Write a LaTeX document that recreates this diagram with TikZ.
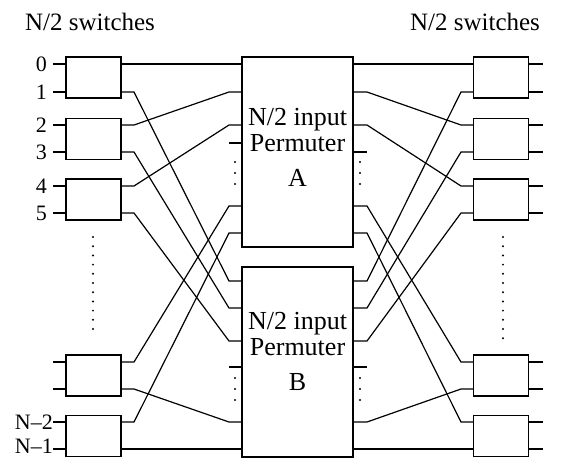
\documentclass[tikz,border=0pt]{standalone}
\usepackage{fontspec}
\setmainfont{Liberation Serif}
\usetikzlibrary{positioning,calc}

\begin{document}
\begin{tikzpicture}[x=1pt,y=-1pt,
  wire/.style={draw=black,line width=1.2pt},
  switchbox/.style={rectangle,draw=black,line width=1.3pt,minimum width=55pt,minimum height=41pt,inner sep=0pt},
  permbox/.style={rectangle,draw=black,line width=1.3pt,minimum width=111pt,minimum height=190pt,inner sep=0pt},
  dotcol/.style={draw=black,line width=2.2pt,line cap=round,dash pattern=on 0pt off 9.2pt},
  dotshort/.style={draw=black,line width=2.2pt,line cap=round,dash pattern=on 0pt off 11pt},
  portlab/.style={anchor=east,inner sep=1pt,font=\fontsize{22}{24}\selectfont},
  headlab/.style={anchor=base,inner sep=0pt,font=\fontsize{25}{28}\selectfont},
  permlab/.style={align=center,inner sep=0pt,font=\fontsize{26}{26}\selectfont}
]
\useasboundingbox (0,0) rectangle (568,459);

% switches on both sides
\foreach \n/\y in {1/77.5,2/139,3/199.5,4/375.5,5/436} {
  \node[switchbox] (sl\n) at (93.5,\y) {};
  \node[switchbox] (sr\n) at (501,\y) {};
}
\node[permbox] (pa) at (297.5,152) {};
\node[permbox] (pb) at (297.5,362) {};
\node[permlab] (ta) at (297.5,147) {N/2 input\\Permuter\\[9pt]A};
\node[permlab] (tb) at (297.5,351) {N/2 input\\Permuter\\[9pt]B};

% ports
\foreach \n/\y in {1/64,2/92,3/125,4/152,5/186,6/213,7/362,8/389,9/422,10/449} {
  \coordinate (li\n) at (66,\y);  \coordinate (lo\n) at (121,\y);
  \coordinate (ri\n) at (473,\y); \coordinate (ro\n) at (529,\y);
}
\foreach \n/\y in {1/64,2/92,3/125,4/206,5/233} {
  \coordinate (ai\n) at (242,\y); \coordinate (ao\n) at (353,\y);
}
\foreach \n/\y in {1/281,2/308,3/341,4/422,5/449} {
  \coordinate (bi\n) at (242,\y); \coordinate (bo\n) at (353,\y);
}
\coordinate (as) at (242,143); \coordinate (at) at (353,152);
\coordinate (bs) at (242,367); \coordinate (bt) at (353,367);

% wiring
\foreach \n in {1,...,10} {
  \draw[wire] (li\n) -- ++(-13,0);
  \draw[wire] (ro\n) -- ++(14,0);
}
\foreach \a/\b in {1/ai1,2/bi1,3/ai2,4/bi2,5/ai3,6/bi3,7/ai4,8/bi4,9/ai5,10/bi5}
  \draw[wire] (lo\a) -- ++(13,0) -- ([xshift=-13pt]\b) -- (\b);
\foreach \a/\b in {ao1/1,ao2/3,ao3/5,ao4/7,ao5/9,bo1/2,bo2/4,bo3/6,bo4/8,bo5/10}
  \draw[wire] (\a) -- ++(14,0) -- ([xshift=-12pt]ri\b) -- (ri\b);
\draw[wire] (as) -- ++(-13,0);
\draw[wire] (at) -- ++(14,0);
\draw[wire] (bs) -- ++(-13,0);
\draw[wire] (bt) -- ++(14,0);

% dots
\draw[dotcol] (93,237) -- (93,338);
\draw[dotcol] (503,237) -- (503,340);
\draw[dotshort] (235,162) -- (235,195);
\draw[dotshort] (360,162) -- (360,195);
\draw[dotshort] (235,378) -- (235,411);
\draw[dotshort] (360,378) -- (360,411);

% labels
\foreach \k/\y in {0/64,1/92,2/125,3/152,4/186,5/213}
  \node[portlab] (n\k) at (48,\y) {\k};
\node[portlab,inner sep=0pt] (nm2) at (53,422) {N--2};
\node[portlab,inner sep=0pt] (nm1) at (53,446) {N--1};
\node[headlab] (hl) at (90,30) {N/2 switches};
\node[headlab] (hr) at (475,30) {N/2 switches};
\end{tikzpicture}
\end{document}
